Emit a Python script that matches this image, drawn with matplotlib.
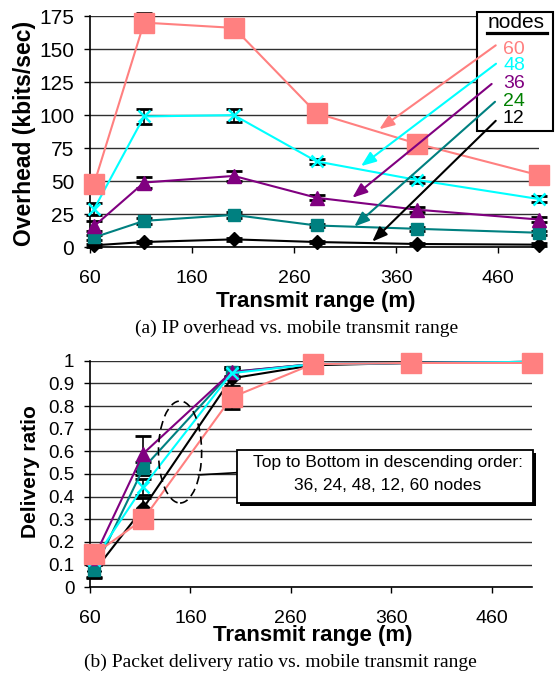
import matplotlib
matplotlib.use("Agg")
import matplotlib.pyplot as plt
from matplotlib.patches import Rectangle, Ellipse
from matplotlib.lines import Line2D

# ---------------- data ----------------
x_range = [64, 113, 201, 282, 380, 500]
node_labels = ["60", "48", "36", "24", "12"]

# (a) IP overhead (kbits/sec)
ovh_60 = [48, 170, 166, 101.5, 78.5, 54.5]
ovh_48 = [29, 99, 100, 65, 51, 36.5]
ovh_36 = [16, 49, 54, 37.5, 28.5, 21]
ovh_24 = [7.5, 20, 24.5, 16.5, 14, 11]
ovh_12 = [1.5, 4, 6, 4, 2.5, 2]
ovh_err_60 = [7, 7, 7, 3, 3, 2]
ovh_err_48 = [4.5, 6, 5, 2, 2, 2]
ovh_err_36 = [4, 4.5, 4, 2, 2, 2]
ovh_err_24 = [2, 2, 2, 1.5, 1.5, 1.5]
ovh_err_12 = [1, 1, 1, 1, 1, 1]

# (b) delivery ratio
dr_60 = [0.145, 0.30, 0.838, 0.985, 0.99, 0.99]
dr_48 = [0.12, 0.444, 0.945, 0.985, 0.99, 0.995]
dr_36 = [0.13, 0.59, 0.95, 0.985, 0.99, 0.995]
dr_24 = [0.075, 0.525, 0.951, 0.985, 0.99, 0.995]
dr_12 = [0.07, 0.349, 0.922, 0.98, 0.99, 0.995]
dr_err_60 = [0.02, 0.02, 0.05, 0.01, 0.005, 0.005]
dr_err_48 = [0.02, 0.035, 0.02, 0.01, 0.005, 0.005]
dr_err_36 = [0.02, 0.077, 0.02, 0.01, 0.005, 0.005]
dr_err_24 = [0.03, 0.03, 0.02, 0.01, 0.005, 0.005]
dr_err_12 = [0.03, 0.045, 0.04, 0.01, 0.005, 0.005]

x_ticks = [60, 160, 260, 360, 460]
ovh_ticks = [0, 25, 50, 75, 100, 125, 150, 175]
dr_ticks = [0, 0.1, 0.2, 0.3, 0.4, 0.5, 0.6, 0.7, 0.8, 0.9, 1.0]
dr_tick_labels = ["0", "0.1", "0.2", "0.3", "0.4", "0.5", "0.6", "0.7", "0.8", "0.9", "1"]

# ---------------- style ----------------
SANS = "Liberation Sans"
SERIF = "Liberation Serif"
plt.rcParams["font.family"] = [SANS, "DejaVu Sans"]

C60 = "#FF8080"
C48 = "#00FFFF"
C36 = "#800080"
C24 = "#008080"
C12 = "#000000"
GREEN = "#008000"

W, H = 555, 677
fig = plt.figure(figsize=(W / 100, H / 100), dpi=100)


def fp(px, py):
    return px / W, 1 - py / H


def style_axes(ax, xsize, ysize):
    ax.set_xlim(60, 500)
    ax.set_xticks(x_ticks)
    for s in ["top", "right"]:
        ax.spines[s].set_visible(False)
    ax.spines["left"].set_linewidth(1.2)
    ax.spines["bottom"].set_linewidth(1.2)
    ax.grid(axis="y", color="#303030", linewidth=1.0)
    ax.set_axisbelow(True)
    ax.tick_params(axis="x", direction="out", length=4.3, width=1, labelsize=xsize, pad=12)
    ax.tick_params(axis="y", direction="out", length=4.3, width=1, labelsize=ysize, pad=7)


series_style = [
    # label, color, marker, ms, mew
    ("12", C12, "D", 7, 1),
    ("24", C24, "s", 9, 1),
    ("36", C36, "^", 10, 1),
    ("48", C48, "x", 9, 1.8),
    ("60", C60, "s", 14, 1),
]

# ================= (a) =================
l, b = fp(90, 247.3)
r, t = fp(539, 16)
ax1 = fig.add_axes([l, b, r - l, t - b])
style_axes(ax1, 14, 15)
ax1.set_ylim(0, 175)
ax1.set_yticks(ovh_ticks)

ovh_vals = {"12": (ovh_12, ovh_err_12), "24": (ovh_24, ovh_err_24), "36": (ovh_36, ovh_err_36),
            "48": (ovh_48, ovh_err_48), "60": (ovh_60, ovh_err_60)}
for lab, col, mk, ms, mew in series_style:
    y, e = ovh_vals[lab]
    ax1.errorbar(x_range, y, yerr=e, fmt="none", ecolor="black", elinewidth=1.2,
                 capsize=5.5, capthick=2, zorder=2, clip_on=False)
    ax1.plot(x_range, y, color=col, linewidth=1.5, marker=mk, markersize=ms,
             markeredgewidth=mew, markeredgecolor=col, markerfacecolor=col,
             zorder=3, clip_on=False)

# legend box
bx0, by0 = fp(476.7, 130.7)
bx1, by1 = fp(553.3, 11.7)
ax1.add_patch(Rectangle((bx0, by0), bx1 - bx0, by1 - by0, transform=fig.transFigure,
                        facecolor="white", edgecolor="black", linewidth=1.5,
                        clip_on=False, zorder=4))
nx, ny = fp(516.5, 22.5)
fig.text(nx, ny, "nodes", fontsize=15, ha="center", va="center", color="black")
u0 = fp(486.7, 33.3)
u1 = fp(547.3, 33.3)
fig.add_artist(Line2D([u0[0], u1[0]], [u0[1], u1[1]], transform=fig.transFigure,
                      color="black", linewidth=2.3))
num_colors = {"60": C60, "48": C48, "36": C36, "24": GREEN, "12": C12}
num_base = {"60": 53.5, "48": 70.5, "36": 88, "24": 105.5, "12": 123}
for lab in node_labels:
    tx, ty = fp(503, num_base[lab])
    fig.text(tx, ty, lab, fontsize=14, ha="left", va="baseline", color=num_colors[lab])

# arrows (start -> end in data coords)
arrows = [
    (C60, (457.6, 152.8), (343.5, 89.3)),
    (C48, (457.9, 138.9), (325.6, 61.4)),
    (C36, (453.6, 123.6), (317.1, 37.5)),
    (C24, (456.9, 110.1), (319.0, 15.7)),
    (C12, (457.6, 95.7), (336.6, 4.3)),
]
for col, s, e in arrows:
    ax1.annotate("", xy=e, xytext=s, xycoords="data", textcoords="data",
                 arrowprops=dict(arrowstyle="-|>,head_length=0.9,head_width=0.35",
                                 color=col, linewidth=1.5, shrinkA=0, shrinkB=0),
                 zorder=5, annotation_clip=False)

tx, ty = fp(25, 133.5)
fig.text(tx, ty, "Overhead (kbits/sec)", rotation=90, fontsize=16.5, fontweight="bold",
         ha="center", va="center")
tx, ty = fp(316, 301)
fig.text(tx, ty, "Transmit range (m)", fontsize=16, fontweight="bold", ha="center", va="center")
tx, ty = fp(296.5, 328)
fig.text(tx, ty, "(a) IP overhead vs. mobile transmit range", fontsize=14,
         family=[SERIF, "DejaVu Serif"], ha="center", va="center")

# ================= (b) =================
l, b = fp(90, 587.3)
r, t = fp(531.7, 360.7)
ax2 = fig.add_axes([l, b, r - l, t - b])
style_axes(ax2, 14, 13.5)
ax2.set_ylim(0, 1)
ax2.set_yticks(dr_ticks)
ax2.set_yticklabels(dr_tick_labels)

dr_vals = {"12": (dr_12, dr_err_12), "24": (dr_24, dr_err_24), "36": (dr_36, dr_err_36),
           "48": (dr_48, dr_err_48), "60": (dr_60, dr_err_60)}
for lab, col, mk, ms, mew in series_style:
    y, e = dr_vals[lab]
    ax2.errorbar(x_range, y, yerr=e, fmt="none", ecolor="black", elinewidth=1.2,
                 capsize=5.5, capthick=2, zorder=2, clip_on=False)
    ax2.plot(x_range, y, color=col, linewidth=1.5, marker=mk, markersize=ms,
             markeredgewidth=mew, markeredgecolor=col, markerfacecolor=col,
             zorder=3, clip_on=False)

# dashed ellipse + connector
ax2.add_patch(Ellipse((149.7, 0.597), 43, 0.45, fill=False, edgecolor="black",
                      linestyle=(0, (5, 3)), linewidth=1.2, zorder=4))
ax2.plot([168, 206.6], [0.496, 0.506], color="black", linewidth=1.2, zorder=4)

bx0, by0 = fp(237, 503.3)
bx1, by1 = fp(533.3, 450)
sx, sy = 2.5 / W, 2.5 / H
ax2.add_patch(Rectangle((bx0 + sx, by0 - sy), bx1 - bx0, by1 - by0, transform=fig.transFigure,
                        facecolor="black", edgecolor="black", linewidth=0,
                        clip_on=False, zorder=5))
ax2.add_patch(Rectangle((bx0, by0), bx1 - bx0, by1 - by0, transform=fig.transFigure,
                        facecolor="white", edgecolor="black", linewidth=1.3,
                        clip_on=False, zorder=6))
tx, ty = fp(388, 462)
fig.text(tx, ty, "Top to Bottom in descending order:", fontsize=12.5, ha="center", va="center")
tx, ty = fp(388, 485.5)
fig.text(tx, ty, "36, 24, 48, 12, 60 nodes", fontsize=12.5, ha="center", va="center")

tx, ty = fp(30.5, 471.7)
fig.text(tx, ty, "Delivery ratio", rotation=90, fontsize=15, fontweight="bold",
         ha="center", va="center")
tx, ty = fp(313, 636)
fig.text(tx, ty, "Transmit range (m)", fontsize=16, fontweight="bold", ha="center", va="center")
tx, ty = fp(280, 662)
fig.text(tx, ty, "(b) Packet delivery ratio vs. mobile transmit range", fontsize=14,
         family=[SERIF, "DejaVu Serif"], ha="center", va="center")

fig.savefig("out.png", dpi=100)
